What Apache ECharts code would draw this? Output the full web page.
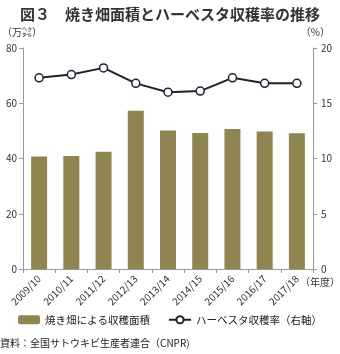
<!DOCTYPE html>
<html><head><meta charset="utf-8">
<script src="https://cdn.jsdelivr.net/npm/echarts@6/dist/echarts.min.js"></script>
<style>html,body{margin:0;padding:0;background:#fff}#c{width:340px;height:354px}</style>
</head><body><div id="c"></div>
<script>
const categories = ['2009/10','2010/11','2011/12','2012/13','2013/14','2014/15','2015/16','2016/17','2017/18'];
const areaValues = [40.7, 40.9, 42.4, 57.3, 50.1, 49.2, 50.7, 49.8, 49.1];
const harvestRate = [17.3, 17.6, 18.2, 16.8, 16.0, 16.1, 17.3, 16.8, 16.8];
const leftTicks = [0, 20, 40, 60, 80];
const rightTicks = [0, 5, 10, 15, 20];
const FONT = '"Noto Sans CJK JP", "Noto Sans", sans-serif';

const chart = echarts.init(document.getElementById('c'), null, {renderer:'canvas'});
chart.setOption({
  animation: false,
  textStyle: {fontFamily: FONT},
  title: {
    text: '図３　焼き畑面積とハーベスタ収穫率の推移',
    left: 'center', top: 2,
    textStyle: {fontFamily: FONT, fontSize: 15, fontWeight: 'bold', color: '#333'}
  },
  grid: {left: 23, right: 27, top: 48, bottom: 85, containLabel: false},
  legend: {
    bottom: 24, left: 'center',
    itemWidth: 22, itemHeight: 9, itemGap: 18,
    textStyle: {fontFamily: FONT, fontSize: 10.5, color: '#222'},
    data: [
      {name: '焼き畑による収穫面積'},
      {name: 'ハーベスタ収穫率（右軸）'}
    ]
  },
  graphic: [
    {type: 'text', left: 2, top: 27, style: {text: '（万㌶）', font: '10px ' + FONT, fill: '#333'}},
    {type: 'text', right: 10, top: 27, style: {text: '（%）', font: '10px ' + FONT, fill: '#333'}},
    {type: 'text', right: 0, top: 277, style: {text: '（年度）', font: '10px ' + FONT, fill: '#333'}},
    {type: 'text', left: 0, top: 338, style: {text: '資料：全国サトウキビ生産者連合（CNPR)', font: '10px ' + FONT, fill: '#222'}}
  ],
  xAxis: {
    type: 'category', data: categories,
    axisLine: {lineStyle: {color: '#999'}},
    axisTick: {show: true, lineStyle: {color: '#999'}, length: 4},
    axisLabel: {rotate: 45, fontSize: 10, color: '#333', margin: 8, fontFamily: FONT}
  },
  yAxis: [
    {type: 'value', min: leftTicks[0], max: leftTicks[leftTicks.length-1], interval: 20,
     axisLine: {show: true, lineStyle: {color: '#999'}},
     axisTick: {show: true, length: 4, lineStyle: {color: '#999'}},
     splitLine: {show: false},
     axisLabel: {fontSize: 10, color: '#333', margin: 6, fontFamily: FONT}},
    {type: 'value', min: rightTicks[0], max: rightTicks[rightTicks.length-1], interval: 5, position: 'right',
     axisLine: {show: true, lineStyle: {color: '#999'}},
     axisTick: {show: true, length: 4, lineStyle: {color: '#999'}},
     splitLine: {show: false},
     axisLabel: {fontSize: 10, color: '#333', margin: 8, fontFamily: FONT}}
  ],
  series: [
    {name: '焼き畑による収穫面積', type: 'bar', data: areaValues, barWidth: 16,
     itemStyle: {color: '#8f8551'}},
    {name: 'ハーベスタ収穫率（右軸）', type: 'line', yAxisIndex: 1, data: harvestRate,
     symbol: 'circle', symbolSize: 8,
     lineStyle: {color: '#1e2130', width: 2},
     itemStyle: {color: '#fff', borderColor: '#1e2130', borderWidth: 1.5}}
  ]
});
</script></body></html>
